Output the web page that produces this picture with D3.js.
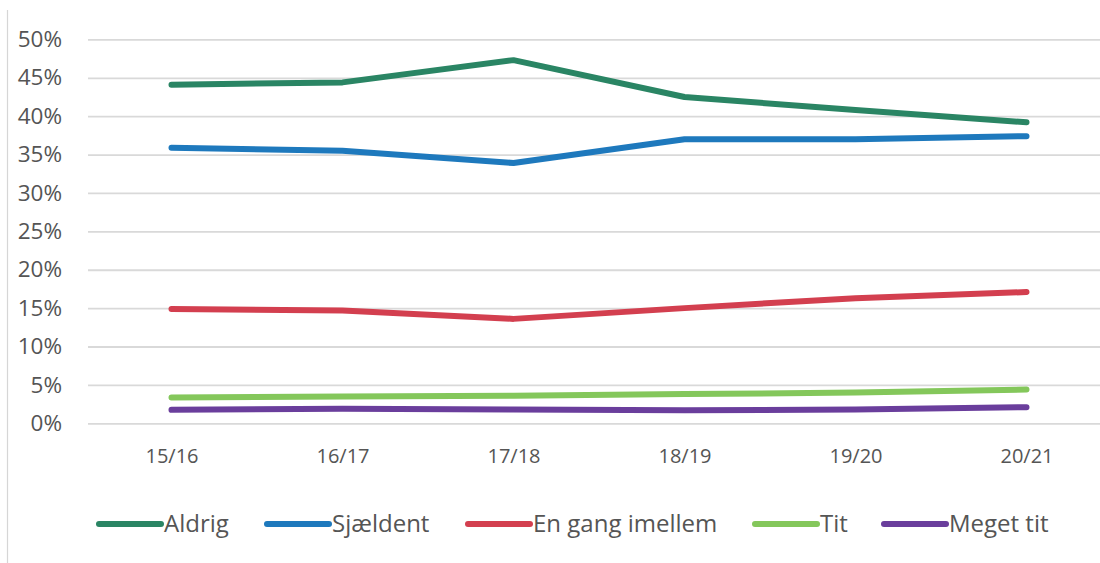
<!DOCTYPE html>
<html>
<head>
<meta charset="utf-8">
<script src="https://cdn.jsdelivr.net/npm/d3@7"></script>
<style>
  html, body { margin: 0; padding: 0; background: #fff; }
  svg { display: block; }
  text { font-family: "Open Sans", sans-serif; fill: #555555; }
</style>
</head>
<body>
<svg id="chart" width="1100" height="563"></svg>
<script>
// School years on the x axis
const seasons = ["15/16", "16/17", "17/18", "18/19", "19/20", "20/21"];

// Share of answers per year (%)
const aldrig      = [44.1, 44.4, 47.3, 42.5, 40.8, 39.2];
const sjaeldent   = [35.9, 35.5, 33.9, 37.0, 37.0, 37.4];
const enGang      = [14.9, 14.7, 13.6, 15.0, 16.3, 17.1];
const tit         = [3.35, 3.5, 3.6, 3.8, 4.0, 4.4];
const megetTit    = [1.75, 1.9, 1.8, 1.7, 1.8, 2.1];

const seriesNames = ["Aldrig", "Sjældent", "En gang imellem", "Tit", "Meget tit"];
const seriesColors = ["#2a8564", "#1e79bd", "#d33f4f", "#84c75b", "#6a3e9c"];
const yTicks = [0, 5, 10, 15, 20, 25, 30, 35, 40, 45, 50];

const series = [aldrig, sjaeldent, enGang, tit, megetTit].map((values, i) => ({
  name: seriesNames[i], color: seriesColors[i], values
}));

const svg = d3.select("#chart");

const x = d3.scalePoint().domain(seasons).range([86, 1112]).padding(0.5);
const y = d3.scaleLinear().domain([0, 50]).range([423.3, 39.4]);

// Thin frame line on the left edge
svg.append("line")
  .attr("x1", 7.5).attr("x2", 7.5).attr("y1", 10).attr("y2", 563)
  .attr("stroke", "#d6d6d6").attr("stroke-width", 1.2);

// Horizontal gridlines + y labels
const yAxis = svg.append("g").attr("transform", "translate(88,0)")
  .call(d3.axisLeft(y).tickValues(yTicks).tickSize(-1030).tickFormat(d => d + "%").tickPadding(26));
yAxis.select(".domain").remove();
yAxis.selectAll(".tick line").attr("stroke", "#d9d9d9").attr("stroke-width", 1.8);
yAxis.selectAll(".tick text")
  .attr("font-size", 22.5).attr("fill", "#555555")
  .style("font-family", "'Open Sans', sans-serif");

// X labels
const xAxis = svg.append("g").attr("transform", "translate(0,423.3)")
  .call(d3.axisBottom(x).tickSize(0).tickPadding(26));
xAxis.select(".domain").remove();
xAxis.selectAll(".tick text")
  .attr("font-size", 20).attr("fill", "#555555")
  .style("font-family", "'Open Sans', sans-serif");

// Lines
const line = d3.line().x((d, i) => x(seasons[i])).y(d => y(d));
svg.append("g").selectAll("path").data(series).join("path")
  .attr("d", d => line(d.values))
  .attr("fill", "none")
  .attr("stroke", d => d.color)
  .attr("stroke-width", 6)
  .attr("stroke-linecap", "round")
  .attr("stroke-linejoin", "round");

// Legend
const legendX = [99, 267, 468, 755, 884];
const legend = svg.append("g").selectAll("g").data(series).join("g")
  .attr("transform", (d, i) => `translate(${legendX[i]},524)`);
legend.append("line")
  .attr("x1", 0).attr("x2", 62).attr("y1", 0).attr("y2", 0)
  .attr("stroke", d => d.color).attr("stroke-width", 6).attr("stroke-linecap", "round");
legend.append("text")
  .attr("x", 65).attr("y", 0).attr("dy", "0.35em")
  .attr("font-size", 24)
  .text(d => d.name);
</script>
</body>
</html>
